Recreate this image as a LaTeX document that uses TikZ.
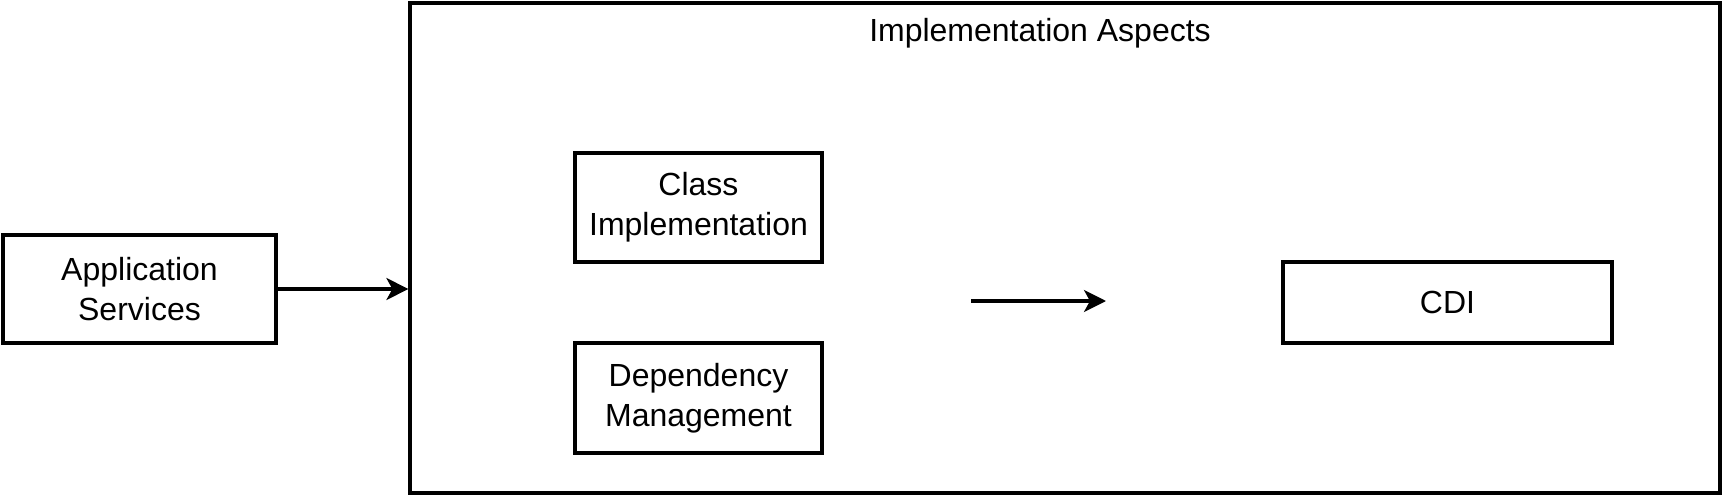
\documentclass[tikz,border=0pt]{standalone}
\usepackage{fontspec}
\setmainfont{Liberation Sans}
\usetikzlibrary{arrows.meta}
\begin{document}
\begin{tikzpicture}[x=0.5pt,y=-0.5pt,
  box/.style={draw=black,line width=1.6pt,fill=white,align=center,inner sep=0pt,
    font=\fontsize{16}{20}\selectfont},
  conn/.style={line width=1.6pt,-{Stealth[length=11pt,width=11pt,inset=3pt]}},
  lbl/.style={font=\fontsize{16}{20}\selectfont,inner sep=0pt}]
\useasboundingbox (0,0) rectangle (1725,498);
\node[box,minimum width=655pt,minimum height=245pt] (outer) at (1065,248) {};
\node[lbl] (title) at (1040,33) {Implementation Aspects};
\node[box,minimum width=136.5pt,minimum height=54pt] (app) at (139.5,289) {Application\\Services};
\node[box,minimum width=123.5pt,minimum height=54.5pt] (class) at (698.5,207.5) {Class\\Implementation};
\node[box,minimum width=123.5pt,minimum height=55pt] (dep) at (698.5,398) {Dependency\\Management};
\node[box,minimum width=164.5pt,minimum height=40.5pt] (cdi) at (1447.5,302.5) {CDI};
\coordinate (a1) at (971,301);
\coordinate (a2) at (1106,301);
\draw[conn] (app.east) -- (app.east -| outer.west);
\draw[conn] (a1) -- (a2);
\end{tikzpicture}
\end{document}
